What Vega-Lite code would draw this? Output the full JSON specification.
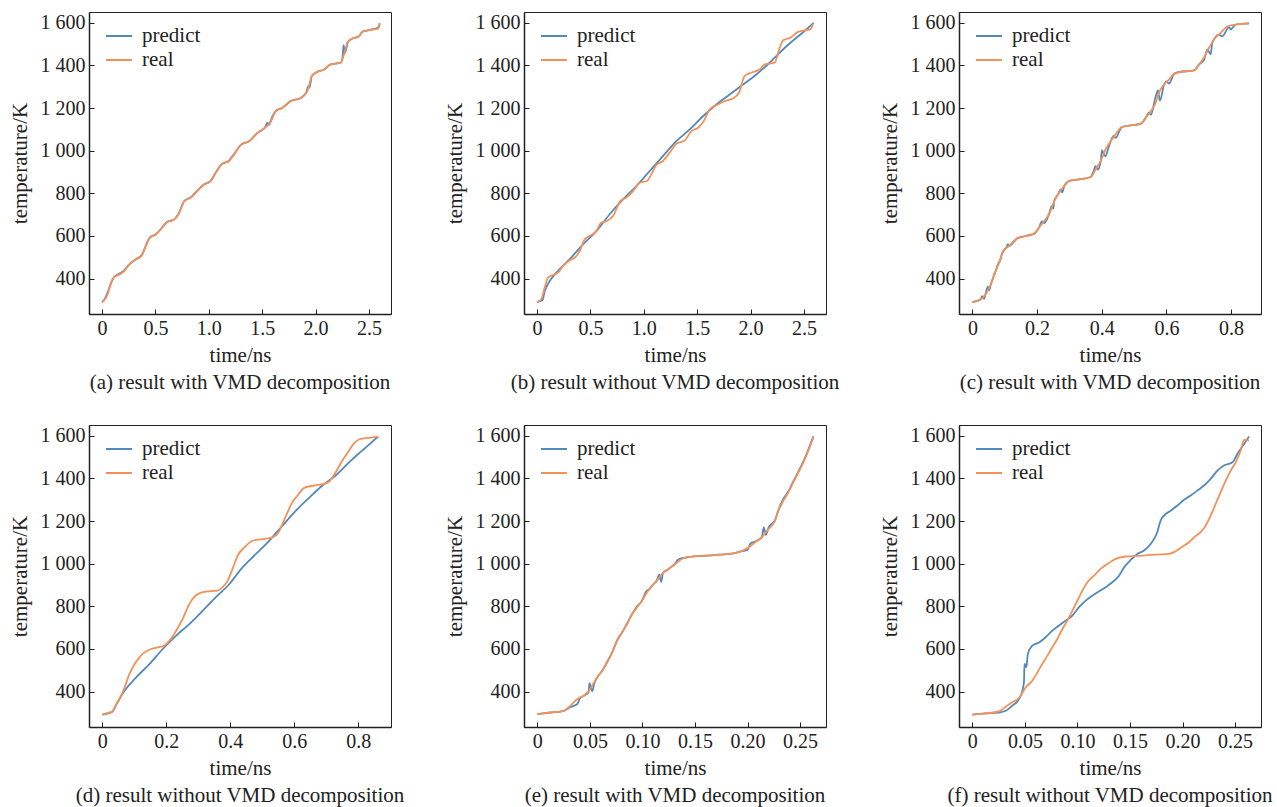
{
  "$schema": "https://vega.github.io/schema/vega-lite/v6.json",
  "background": "white",
  "padding": {"left": 8, "top": 11, "right": 5, "bottom": 5},
  "datasets": {
    "a": [
      {"t":0,"T":290,"s":"predict"},{"t":0.02,"T":300,"s":"predict"},{"t":0.053,"T":335,"s":"predict"},{"t":0.084,"T":378,"s":"predict"},{"t":0.115,"T":408,"s":"predict"},{"t":0.178,"T":428,"s":"predict"},{"t":0.209,"T":440,"s":"predict"},{"t":0.256,"T":467,"s":"predict"},{"t":0.318,"T":491,"s":"predict"},{"t":0.371,"T":509,"s":"predict"},{"t":0.411,"T":556,"s":"predict"},{"t":0.449,"T":594,"s":"predict"},{"t":0.505,"T":608,"s":"predict"},{"t":0.552,"T":634,"s":"predict"},{"t":0.605,"T":665,"s":"predict"},{"t":0.676,"T":678,"s":"predict"},{"t":0.717,"T":705,"s":"predict"},{"t":0.77,"T":764,"s":"predict"},{"t":0.832,"T":782,"s":"predict"},{"t":0.879,"T":806,"s":"predict"},{"t":0.948,"T":839,"s":"predict"},{"t":1.019,"T":860,"s":"predict"},{"t":1.066,"T":899,"s":"predict"},{"t":1.119,"T":936,"s":"predict"},{"t":1.191,"T":955,"s":"predict"},{"t":1.238,"T":986,"s":"predict"},{"t":1.306,"T":1030,"s":"predict"},{"t":1.378,"T":1045,"s":"predict"},{"t":1.456,"T":1084,"s":"predict"},{"t":1.527,"T":1110,"s":"predict"},{"t":1.55,"T":1132,"s":"predict"},{"t":1.565,"T":1120,"s":"predict"},{"t":1.58,"T":1142,"s":"predict"},{"t":1.627,"T":1186,"s":"predict"},{"t":1.69,"T":1202,"s":"predict"},{"t":1.767,"T":1233,"s":"predict"},{"t":1.861,"T":1248,"s":"predict"},{"t":1.915,"T":1275,"s":"predict"},{"t":1.93,"T":1302,"s":"predict"},{"t":1.942,"T":1296,"s":"predict"},{"t":1.964,"T":1350,"s":"predict"},{"t":2.001,"T":1366,"s":"predict"},{"t":2.079,"T":1381,"s":"predict"},{"t":2.142,"T":1405,"s":"predict"},{"t":2.235,"T":1413,"s":"predict"},{"t":2.252,"T":1438,"s":"predict"},{"t":2.262,"T":1495,"s":"predict"},{"t":2.274,"T":1458,"s":"predict"},{"t":2.29,"T":1485,"s":"predict"},{"t":2.3,"T":1508,"s":"predict"},{"t":2.329,"T":1522,"s":"predict"},{"t":2.407,"T":1537,"s":"predict"},{"t":2.438,"T":1558,"s":"predict"},{"t":2.5,"T":1566,"s":"predict"},{"t":2.587,"T":1578,"s":"predict"},{"t":2.6,"T":1596,"s":"predict"},
      {"t":0,"T":290,"s":"real"},{"t":0.02,"T":298,"s":"real"},{"t":0.053,"T":327,"s":"real"},{"t":0.084,"T":381,"s":"real"},{"t":0.115,"T":408,"s":"real"},{"t":0.178,"T":423,"s":"real"},{"t":0.209,"T":436,"s":"real"},{"t":0.256,"T":467,"s":"real"},{"t":0.318,"T":491,"s":"real"},{"t":0.371,"T":509,"s":"real"},{"t":0.411,"T":553,"s":"real"},{"t":0.449,"T":592,"s":"real"},{"t":0.505,"T":608,"s":"real"},{"t":0.552,"T":632,"s":"real"},{"t":0.605,"T":663,"s":"real"},{"t":0.676,"T":678,"s":"real"},{"t":0.717,"T":702,"s":"real"},{"t":0.77,"T":764,"s":"real"},{"t":0.832,"T":780,"s":"real"},{"t":0.879,"T":803,"s":"real"},{"t":0.948,"T":839,"s":"real"},{"t":1.019,"T":858,"s":"real"},{"t":1.066,"T":897,"s":"real"},{"t":1.119,"T":936,"s":"real"},{"t":1.191,"T":952,"s":"real"},{"t":1.238,"T":983,"s":"real"},{"t":1.306,"T":1030,"s":"real"},{"t":1.378,"T":1045,"s":"real"},{"t":1.456,"T":1084,"s":"real"},{"t":1.527,"T":1108,"s":"real"},{"t":1.58,"T":1136,"s":"real"},{"t":1.627,"T":1186,"s":"real"},{"t":1.69,"T":1202,"s":"real"},{"t":1.767,"T":1233,"s":"real"},{"t":1.861,"T":1248,"s":"real"},{"t":1.923,"T":1280,"s":"real"},{"t":1.964,"T":1350,"s":"real"},{"t":2.001,"T":1366,"s":"real"},{"t":2.079,"T":1381,"s":"real"},{"t":2.142,"T":1405,"s":"real"},{"t":2.235,"T":1413,"s":"real"},{"t":2.266,"T":1452,"s":"real"},{"t":2.297,"T":1506,"s":"real"},{"t":2.329,"T":1522,"s":"real"},{"t":2.407,"T":1537,"s":"real"},{"t":2.438,"T":1558,"s":"real"},{"t":2.5,"T":1566,"s":"real"},{"t":2.587,"T":1573,"s":"real"},{"t":2.6,"T":1600,"s":"real"}
    ],
    "b": [
      {"t":0,"T":290,"s":"predict"},{"t":0.05,"T":298,"s":"predict"},{"t":0.072,"T":341,"s":"predict"},{"t":0.119,"T":389,"s":"predict"},{"t":0.181,"T":428,"s":"predict"},{"t":0.306,"T":491,"s":"predict"},{"t":0.431,"T":561,"s":"predict"},{"t":0.556,"T":623,"s":"predict"},{"t":0.68,"T":702,"s":"predict"},{"t":0.805,"T":772,"s":"predict"},{"t":0.93,"T":834,"s":"predict"},{"t":1.055,"T":905,"s":"predict"},{"t":1.179,"T":975,"s":"predict"},{"t":1.305,"T":1045,"s":"predict"},{"t":1.43,"T":1100,"s":"predict"},{"t":1.554,"T":1162,"s":"predict"},{"t":1.679,"T":1217,"s":"predict"},{"t":1.804,"T":1264,"s":"predict"},{"t":1.929,"T":1311,"s":"predict"},{"t":2.054,"T":1358,"s":"predict"},{"t":2.178,"T":1413,"s":"predict"},{"t":2.303,"T":1475,"s":"predict"},{"t":2.428,"T":1530,"s":"predict"},{"t":2.522,"T":1569,"s":"predict"},{"t":2.59,"T":1600,"s":"predict"},
      {"t":0,"T":290,"s":"real"},{"t":0.04,"T":303,"s":"real"},{"t":0.072,"T":358,"s":"real"},{"t":0.103,"T":405,"s":"real"},{"t":0.15,"T":417,"s":"real"},{"t":0.197,"T":428,"s":"real"},{"t":0.243,"T":459,"s":"real"},{"t":0.306,"T":486,"s":"real"},{"t":0.362,"T":502,"s":"real"},{"t":0.4,"T":530,"s":"real"},{"t":0.446,"T":584,"s":"real"},{"t":0.493,"T":600,"s":"real"},{"t":0.556,"T":623,"s":"real"},{"t":0.602,"T":663,"s":"real"},{"t":0.655,"T":670,"s":"real"},{"t":0.712,"T":694,"s":"real"},{"t":0.78,"T":764,"s":"real"},{"t":0.836,"T":780,"s":"real"},{"t":0.899,"T":811,"s":"real"},{"t":0.961,"T":850,"s":"real"},{"t":1.03,"T":858,"s":"real"},{"t":1.07,"T":889,"s":"real"},{"t":1.117,"T":933,"s":"real"},{"t":1.179,"T":952,"s":"real"},{"t":1.242,"T":991,"s":"real"},{"t":1.305,"T":1033,"s":"real"},{"t":1.383,"T":1048,"s":"real"},{"t":1.445,"T":1092,"s":"real"},{"t":1.508,"T":1108,"s":"real"},{"t":1.561,"T":1139,"s":"real"},{"t":1.617,"T":1194,"s":"real"},{"t":1.695,"T":1217,"s":"real"},{"t":1.757,"T":1233,"s":"real"},{"t":1.835,"T":1245,"s":"real"},{"t":1.891,"T":1272,"s":"real"},{"t":1.944,"T":1350,"s":"real"},{"t":2.007,"T":1366,"s":"real"},{"t":2.085,"T":1381,"s":"real"},{"t":2.132,"T":1405,"s":"real"},{"t":2.225,"T":1413,"s":"real"},{"t":2.272,"T":1483,"s":"real"},{"t":2.303,"T":1517,"s":"real"},{"t":2.381,"T":1533,"s":"real"},{"t":2.444,"T":1558,"s":"real"},{"t":2.491,"T":1564,"s":"real"},{"t":2.559,"T":1569,"s":"real"},{"t":2.584,"T":1595,"s":"real"}
    ],
    "c": [
      {"t":0,"T":290,"s":"predict"},{"t":0.026,"T":303,"s":"predict"},{"t":0.03,"T":318,"s":"predict"},{"t":0.036,"T":305,"s":"predict"},{"t":0.041,"T":330,"s":"predict"},{"t":0.048,"T":362,"s":"predict"},{"t":0.052,"T":345,"s":"predict"},{"t":0.057,"T":373,"s":"predict"},{"t":0.072,"T":436,"s":"predict"},{"t":0.08,"T":470,"s":"predict"},{"t":0.085,"T":483,"s":"predict"},{"t":0.093,"T":522,"s":"predict"},{"t":0.106,"T":548,"s":"predict"},{"t":0.11,"T":562,"s":"predict"},{"t":0.113,"T":553,"s":"predict"},{"t":0.139,"T":589,"s":"predict"},{"t":0.165,"T":600,"s":"predict"},{"t":0.191,"T":611,"s":"predict"},{"t":0.206,"T":639,"s":"predict"},{"t":0.215,"T":668,"s":"predict"},{"t":0.222,"T":660,"s":"predict"},{"t":0.237,"T":702,"s":"predict"},{"t":0.245,"T":740,"s":"predict"},{"t":0.25,"T":728,"s":"predict"},{"t":0.253,"T":764,"s":"predict"},{"t":0.268,"T":803,"s":"predict"},{"t":0.272,"T":818,"s":"predict"},{"t":0.278,"T":805,"s":"predict"},{"t":0.284,"T":834,"s":"predict"},{"t":0.299,"T":858,"s":"predict"},{"t":0.33,"T":866,"s":"predict"},{"t":0.366,"T":877,"s":"predict"},{"t":0.375,"T":905,"s":"predict"},{"t":0.381,"T":928,"s":"predict"},{"t":0.388,"T":912,"s":"predict"},{"t":0.397,"T":952,"s":"predict"},{"t":0.401,"T":1003,"s":"predict"},{"t":0.406,"T":985,"s":"predict"},{"t":0.412,"T":975,"s":"predict"},{"t":0.418,"T":1000,"s":"predict"},{"t":0.428,"T":1045,"s":"predict"},{"t":0.437,"T":1070,"s":"predict"},{"t":0.443,"T":1060,"s":"predict"},{"t":0.462,"T":1111,"s":"predict"},{"t":0.495,"T":1120,"s":"predict"},{"t":0.521,"T":1127,"s":"predict"},{"t":0.536,"T":1155,"s":"predict"},{"t":0.546,"T":1180,"s":"predict"},{"t":0.552,"T":1168,"s":"predict"},{"t":0.567,"T":1256,"s":"predict"},{"t":0.574,"T":1283,"s":"predict"},{"t":0.58,"T":1235,"s":"predict"},{"t":0.593,"T":1311,"s":"predict"},{"t":0.6,"T":1325,"s":"predict"},{"t":0.608,"T":1315,"s":"predict"},{"t":0.624,"T":1361,"s":"predict"},{"t":0.639,"T":1369,"s":"predict"},{"t":0.686,"T":1377,"s":"predict"},{"t":0.701,"T":1405,"s":"predict"},{"t":0.716,"T":1425,"s":"predict"},{"t":0.727,"T":1475,"s":"predict"},{"t":0.737,"T":1452,"s":"predict"},{"t":0.742,"T":1506,"s":"predict"},{"t":0.763,"T":1545,"s":"predict"},{"t":0.773,"T":1537,"s":"predict"},{"t":0.794,"T":1580,"s":"predict"},{"t":0.799,"T":1569,"s":"predict"},{"t":0.814,"T":1592,"s":"predict"},{"t":0.856,"T":1598,"s":"predict"},
      {"t":0,"T":290,"s":"real"},{"t":0.026,"T":303,"s":"real"},{"t":0.041,"T":327,"s":"real"},{"t":0.057,"T":373,"s":"real"},{"t":0.072,"T":436,"s":"real"},{"t":0.085,"T":483,"s":"real"},{"t":0.093,"T":522,"s":"real"},{"t":0.113,"T":553,"s":"real"},{"t":0.139,"T":589,"s":"real"},{"t":0.165,"T":600,"s":"real"},{"t":0.191,"T":611,"s":"real"},{"t":0.206,"T":639,"s":"real"},{"t":0.222,"T":670,"s":"real"},{"t":0.237,"T":702,"s":"real"},{"t":0.253,"T":764,"s":"real"},{"t":0.268,"T":803,"s":"real"},{"t":0.284,"T":834,"s":"real"},{"t":0.299,"T":858,"s":"real"},{"t":0.33,"T":866,"s":"real"},{"t":0.366,"T":877,"s":"real"},{"t":0.381,"T":912,"s":"real"},{"t":0.397,"T":952,"s":"real"},{"t":0.412,"T":1006,"s":"real"},{"t":0.428,"T":1045,"s":"real"},{"t":0.443,"T":1077,"s":"real"},{"t":0.462,"T":1111,"s":"real"},{"t":0.495,"T":1120,"s":"real"},{"t":0.521,"T":1127,"s":"real"},{"t":0.536,"T":1155,"s":"real"},{"t":0.552,"T":1186,"s":"real"},{"t":0.567,"T":1225,"s":"real"},{"t":0.577,"T":1272,"s":"real"},{"t":0.593,"T":1311,"s":"real"},{"t":0.608,"T":1334,"s":"real"},{"t":0.624,"T":1361,"s":"real"},{"t":0.639,"T":1369,"s":"real"},{"t":0.686,"T":1377,"s":"real"},{"t":0.701,"T":1405,"s":"real"},{"t":0.716,"T":1436,"s":"real"},{"t":0.732,"T":1483,"s":"real"},{"t":0.747,"T":1522,"s":"real"},{"t":0.768,"T":1553,"s":"real"},{"t":0.789,"T":1584,"s":"real"},{"t":0.814,"T":1592,"s":"real"},{"t":0.856,"T":1598,"s":"real"}
    ],
    "d": [
      {"t":0,"T":292,"s":"predict"},{"t":0.031,"T":306,"s":"predict"},{"t":0.044,"T":339,"s":"predict"},{"t":0.064,"T":392,"s":"predict"},{"t":0.106,"T":467,"s":"predict"},{"t":0.148,"T":530,"s":"predict"},{"t":0.189,"T":600,"s":"predict"},{"t":0.231,"T":663,"s":"predict"},{"t":0.272,"T":717,"s":"predict"},{"t":0.314,"T":780,"s":"predict"},{"t":0.355,"T":843,"s":"predict"},{"t":0.397,"T":905,"s":"predict"},{"t":0.438,"T":983,"s":"predict"},{"t":0.48,"T":1046,"s":"predict"},{"t":0.522,"T":1109,"s":"predict"},{"t":0.563,"T":1179,"s":"predict"},{"t":0.605,"T":1249,"s":"predict"},{"t":0.646,"T":1309,"s":"predict"},{"t":0.688,"T":1367,"s":"predict"},{"t":0.729,"T":1414,"s":"predict"},{"t":0.771,"T":1476,"s":"predict"},{"t":0.812,"T":1531,"s":"predict"},{"t":0.862,"T":1597,"s":"predict"},
      {"t":0,"T":292,"s":"real"},{"t":0.012,"T":298,"s":"real"},{"t":0.031,"T":306,"s":"real"},{"t":0.044,"T":342,"s":"real"},{"t":0.064,"T":397,"s":"real"},{"t":0.085,"T":483,"s":"real"},{"t":0.101,"T":530,"s":"real"},{"t":0.116,"T":561,"s":"real"},{"t":0.132,"T":584,"s":"real"},{"t":0.153,"T":600,"s":"real"},{"t":0.174,"T":608,"s":"real"},{"t":0.194,"T":616,"s":"real"},{"t":0.21,"T":639,"s":"real"},{"t":0.231,"T":686,"s":"real"},{"t":0.251,"T":741,"s":"real"},{"t":0.267,"T":796,"s":"real"},{"t":0.282,"T":835,"s":"real"},{"t":0.303,"T":861,"s":"real"},{"t":0.335,"T":871,"s":"real"},{"t":0.36,"T":874,"s":"real"},{"t":0.376,"T":890,"s":"real"},{"t":0.392,"T":921,"s":"real"},{"t":0.407,"T":976,"s":"real"},{"t":0.423,"T":1038,"s":"real"},{"t":0.444,"T":1077,"s":"real"},{"t":0.47,"T":1108,"s":"real"},{"t":0.501,"T":1116,"s":"real"},{"t":0.532,"T":1124,"s":"real"},{"t":0.551,"T":1148,"s":"real"},{"t":0.563,"T":1187,"s":"real"},{"t":0.579,"T":1242,"s":"real"},{"t":0.594,"T":1289,"s":"real"},{"t":0.61,"T":1320,"s":"real"},{"t":0.631,"T":1356,"s":"real"},{"t":0.662,"T":1367,"s":"real"},{"t":0.693,"T":1375,"s":"real"},{"t":0.709,"T":1386,"s":"real"},{"t":0.729,"T":1429,"s":"real"},{"t":0.75,"T":1484,"s":"real"},{"t":0.771,"T":1531,"s":"real"},{"t":0.787,"T":1566,"s":"real"},{"t":0.802,"T":1583,"s":"real"},{"t":0.833,"T":1591,"s":"real"},{"t":0.862,"T":1597,"s":"real"}
    ],
    "e": [
      {"t":0,"T":295,"s":"predict"},{"t":0.0127,"T":302,"s":"predict"},{"t":0.0253,"T":310,"s":"predict"},{"t":0.0316,"T":328,"s":"predict"},{"t":0.038,"T":342,"s":"predict"},{"t":0.0405,"T":368,"s":"predict"},{"t":0.0443,"T":381,"s":"predict"},{"t":0.0485,"T":395,"s":"predict"},{"t":0.0497,"T":440,"s":"predict"},{"t":0.0522,"T":402,"s":"predict"},{"t":0.054,"T":435,"s":"predict"},{"t":0.057,"T":467,"s":"predict"},{"t":0.0617,"T":498,"s":"predict"},{"t":0.0665,"T":540,"s":"predict"},{"t":0.0712,"T":584,"s":"predict"},{"t":0.076,"T":642,"s":"predict"},{"t":0.0807,"T":678,"s":"predict"},{"t":0.0854,"T":720,"s":"predict"},{"t":0.0902,"T":764,"s":"predict"},{"t":0.095,"T":800,"s":"predict"},{"t":0.0997,"T":827,"s":"predict"},{"t":0.1035,"T":870,"s":"predict"},{"t":0.1065,"T":880,"s":"predict"},{"t":0.1092,"T":897,"s":"predict"},{"t":0.114,"T":925,"s":"predict"},{"t":0.116,"T":950,"s":"predict"},{"t":0.1178,"T":915,"s":"predict"},{"t":0.1195,"T":955,"s":"predict"},{"t":0.125,"T":976,"s":"predict"},{"t":0.1313,"T":1002,"s":"predict"},{"t":0.134,"T":1020,"s":"predict"},{"t":0.1424,"T":1030,"s":"predict"},{"t":0.1487,"T":1035,"s":"predict"},{"t":0.1614,"T":1038,"s":"predict"},{"t":0.174,"T":1043,"s":"predict"},{"t":0.1867,"T":1049,"s":"predict"},{"t":0.1946,"T":1059,"s":"predict"},{"t":0.2,"T":1065,"s":"predict"},{"t":0.203,"T":1096,"s":"predict"},{"t":0.2073,"T":1104,"s":"predict"},{"t":0.2136,"T":1124,"s":"predict"},{"t":0.2155,"T":1170,"s":"predict"},{"t":0.2175,"T":1135,"s":"predict"},{"t":0.22,"T":1170,"s":"predict"},{"t":0.2263,"T":1206,"s":"predict"},{"t":0.2294,"T":1252,"s":"predict"},{"t":0.2342,"T":1305,"s":"predict"},{"t":0.239,"T":1340,"s":"predict"},{"t":0.2437,"T":1388,"s":"predict"},{"t":0.2484,"T":1432,"s":"predict"},{"t":0.2532,"T":1480,"s":"predict"},{"t":0.2579,"T":1536,"s":"predict"},{"t":0.2627,"T":1598,"s":"predict"},
      {"t":0,"T":295,"s":"real"},{"t":0.0127,"T":302,"s":"real"},{"t":0.0253,"T":310,"s":"real"},{"t":0.0316,"T":334,"s":"real"},{"t":0.038,"T":365,"s":"real"},{"t":0.0443,"T":381,"s":"real"},{"t":0.049,"T":404,"s":"real"},{"t":0.0522,"T":428,"s":"real"},{"t":0.057,"T":467,"s":"real"},{"t":0.0617,"T":498,"s":"real"},{"t":0.0665,"T":537,"s":"real"},{"t":0.0712,"T":584,"s":"real"},{"t":0.076,"T":639,"s":"real"},{"t":0.0807,"T":678,"s":"real"},{"t":0.0854,"T":717,"s":"real"},{"t":0.0902,"T":764,"s":"real"},{"t":0.095,"T":796,"s":"real"},{"t":0.0997,"T":827,"s":"real"},{"t":0.1044,"T":866,"s":"real"},{"t":0.1092,"T":897,"s":"real"},{"t":0.114,"T":921,"s":"real"},{"t":0.1187,"T":952,"s":"real"},{"t":0.125,"T":976,"s":"real"},{"t":0.1313,"T":999,"s":"real"},{"t":0.136,"T":1018,"s":"real"},{"t":0.1424,"T":1030,"s":"real"},{"t":0.1487,"T":1035,"s":"real"},{"t":0.1614,"T":1038,"s":"real"},{"t":0.174,"T":1043,"s":"real"},{"t":0.1867,"T":1049,"s":"real"},{"t":0.1946,"T":1059,"s":"real"},{"t":0.201,"T":1077,"s":"real"},{"t":0.2073,"T":1101,"s":"real"},{"t":0.2136,"T":1124,"s":"real"},{"t":0.22,"T":1163,"s":"real"},{"t":0.2263,"T":1203,"s":"real"},{"t":0.2294,"T":1249,"s":"real"},{"t":0.2342,"T":1296,"s":"real"},{"t":0.239,"T":1336,"s":"real"},{"t":0.2437,"T":1383,"s":"real"},{"t":0.2484,"T":1429,"s":"real"},{"t":0.2532,"T":1476,"s":"real"},{"t":0.2579,"T":1531,"s":"real"},{"t":0.2627,"T":1594,"s":"real"}
    ],
    "f": [
      {"t":0,"T":292,"s":"predict"},{"t":0.0127,"T":298,"s":"predict"},{"t":0.0254,"T":302,"s":"predict"},{"t":0.0317,"T":310,"s":"predict"},{"t":0.038,"T":334,"s":"predict"},{"t":0.0444,"T":365,"s":"predict"},{"t":0.0476,"T":404,"s":"predict"},{"t":0.0492,"T":451,"s":"predict"},{"t":0.0496,"T":530,"s":"predict"},{"t":0.0514,"T":514,"s":"predict"},{"t":0.0528,"T":577,"s":"predict"},{"t":0.0571,"T":616,"s":"predict"},{"t":0.0635,"T":631,"s":"predict"},{"t":0.0698,"T":655,"s":"predict"},{"t":0.0761,"T":686,"s":"predict"},{"t":0.0825,"T":710,"s":"predict"},{"t":0.0888,"T":733,"s":"predict"},{"t":0.0952,"T":757,"s":"predict"},{"t":0.1015,"T":796,"s":"predict"},{"t":0.1079,"T":827,"s":"predict"},{"t":0.1142,"T":850,"s":"predict"},{"t":0.1206,"T":871,"s":"predict"},{"t":0.1269,"T":890,"s":"predict"},{"t":0.1332,"T":913,"s":"predict"},{"t":0.1396,"T":944,"s":"predict"},{"t":0.1444,"T":983,"s":"predict"},{"t":0.1507,"T":1018,"s":"predict"},{"t":0.157,"T":1046,"s":"predict"},{"t":0.1634,"T":1062,"s":"predict"},{"t":0.1697,"T":1093,"s":"predict"},{"t":0.176,"T":1148,"s":"predict"},{"t":0.1792,"T":1203,"s":"predict"},{"t":0.1824,"T":1226,"s":"predict"},{"t":0.1888,"T":1249,"s":"predict"},{"t":0.1951,"T":1273,"s":"predict"},{"t":0.2015,"T":1300,"s":"predict"},{"t":0.2078,"T":1320,"s":"predict"},{"t":0.2141,"T":1343,"s":"predict"},{"t":0.2205,"T":1367,"s":"predict"},{"t":0.2268,"T":1398,"s":"predict"},{"t":0.2332,"T":1437,"s":"predict"},{"t":0.2395,"T":1461,"s":"predict"},{"t":0.2475,"T":1476,"s":"predict"},{"t":0.2522,"T":1515,"s":"predict"},{"t":0.2586,"T":1562,"s":"predict"},{"t":0.2633,"T":1597,"s":"predict"},
      {"t":0,"T":292,"s":"real"},{"t":0.0127,"T":298,"s":"real"},{"t":0.0254,"T":307,"s":"real"},{"t":0.0317,"T":329,"s":"real"},{"t":0.038,"T":350,"s":"real"},{"t":0.0444,"T":370,"s":"real"},{"t":0.0508,"T":420,"s":"real"},{"t":0.0571,"T":451,"s":"real"},{"t":0.0619,"T":490,"s":"real"},{"t":0.0666,"T":530,"s":"real"},{"t":0.0714,"T":569,"s":"real"},{"t":0.0761,"T":608,"s":"real"},{"t":0.0809,"T":647,"s":"real"},{"t":0.0857,"T":694,"s":"real"},{"t":0.0904,"T":733,"s":"real"},{"t":0.0952,"T":780,"s":"real"},{"t":0.1,"T":827,"s":"real"},{"t":0.1047,"T":874,"s":"real"},{"t":0.1095,"T":913,"s":"real"},{"t":0.1158,"T":944,"s":"real"},{"t":0.1221,"T":976,"s":"real"},{"t":0.1285,"T":999,"s":"real"},{"t":0.1364,"T":1023,"s":"real"},{"t":0.1459,"T":1034,"s":"real"},{"t":0.1586,"T":1037,"s":"real"},{"t":0.1745,"T":1043,"s":"real"},{"t":0.1872,"T":1046,"s":"real"},{"t":0.1935,"T":1059,"s":"real"},{"t":0.1999,"T":1080,"s":"real"},{"t":0.2062,"T":1101,"s":"real"},{"t":0.211,"T":1124,"s":"real"},{"t":0.2173,"T":1148,"s":"real"},{"t":0.2221,"T":1179,"s":"real"},{"t":0.2268,"T":1226,"s":"real"},{"t":0.2316,"T":1281,"s":"real"},{"t":0.2364,"T":1336,"s":"real"},{"t":0.2411,"T":1390,"s":"real"},{"t":0.2459,"T":1437,"s":"real"},{"t":0.2506,"T":1476,"s":"real"},{"t":0.2554,"T":1531,"s":"real"},{"t":0.2586,"T":1581,"s":"real"},{"t":0.2633,"T":1578,"s":"real"}
    ]
  },
  "columns": 3,
  "spacing": {"row": 111, "column": 133},
  "bounds": "flush",
  "resolve": {"scale": {"x": "independent", "y": "independent", "color": "independent"}, "legend": {"color": "independent"}},
  "concat": [
    {
      "width": 302, "height": 302,
      "data": {"name": "a"},
      "title": "(a) result with VMD decomposition",
      "mark": {"type": "line", "strokeWidth": 1.8, "interpolate": "monotone"},
      "encoding": {
        "x": {"field": "t", "type": "quantitative", "title": "time/ns", "scale": {"domain": [-0.122, 2.706], "nice": false, "zero": false}, "axis": {"values": [0, 0.5, 1, 1.5, 2, 2.5], "labelExpr": "datum.value == 0 ? '0' : format(datum.value, '.1f')"}},
        "y": {"field": "T", "type": "quantitative", "title": "temperature/K", "scale": {"domain": [234, 1651], "nice": false, "zero": false}, "axis": {"values": [400, 600, 800, 1000, 1200, 1400, 1600], "labelExpr": "replace(format(datum.value, ','), ',', ' ')"}},
        "color": {"field": "s", "type": "nominal", "sort": ["predict", "real"], "scale": {"domain": ["predict", "real"], "range": ["#5289bb", "#f39159"]}, "legend": {"title": null, "orient": "none", "legendX": 16, "legendY": 10}}
      }
    },
    {
      "width": 302, "height": 302,
      "data": {"name": "b"},
      "title": "(b) result without VMD decomposition",
      "mark": {"type": "line", "strokeWidth": 1.8, "interpolate": "monotone"},
      "encoding": {
        "x": {"field": "t", "type": "quantitative", "title": "time/ns", "scale": {"domain": [-0.122, 2.706], "nice": false, "zero": false}, "axis": {"values": [0, 0.5, 1, 1.5, 2, 2.5], "labelExpr": "datum.value == 0 ? '0' : format(datum.value, '.1f')"}},
        "y": {"field": "T", "type": "quantitative", "title": "temperature/K", "scale": {"domain": [234, 1651], "nice": false, "zero": false}, "axis": {"values": [400, 600, 800, 1000, 1200, 1400, 1600], "labelExpr": "replace(format(datum.value, ','), ',', ' ')"}},
        "color": {"field": "s", "type": "nominal", "sort": ["predict", "real"], "scale": {"domain": ["predict", "real"], "range": ["#5289bb", "#f39159"]}, "legend": {"title": null, "orient": "none", "legendX": 16, "legendY": 10}}
      }
    },
    {
      "width": 302, "height": 302,
      "data": {"name": "c"},
      "title": "(c) result with VMD decomposition",
      "mark": {"type": "line", "strokeWidth": 1.8, "interpolate": "monotone"},
      "encoding": {
        "x": {"field": "t", "type": "quantitative", "title": "time/ns", "scale": {"domain": [-0.0414, 0.8926], "nice": false, "zero": false}, "axis": {"values": [0, 0.2, 0.4, 0.6, 0.8], "labelExpr": "datum.value == 0 ? '0' : format(datum.value, '.1f')"}},
        "y": {"field": "T", "type": "quantitative", "title": "temperature/K", "scale": {"domain": [234, 1651], "nice": false, "zero": false}, "axis": {"values": [400, 600, 800, 1000, 1200, 1400, 1600], "labelExpr": "replace(format(datum.value, ','), ',', ' ')"}},
        "color": {"field": "s", "type": "nominal", "sort": ["predict", "real"], "scale": {"domain": ["predict", "real"], "range": ["#5289bb", "#f39159"]}, "legend": {"title": null, "orient": "none", "legendX": 16, "legendY": 10}}
      }
    },
    {
      "width": 302, "height": 302,
      "data": {"name": "d"},
      "title": "(d) result without VMD decomposition",
      "mark": {"type": "line", "strokeWidth": 1.8, "interpolate": "monotone"},
      "encoding": {
        "x": {"field": "t", "type": "quantitative", "title": "time/ns", "scale": {"domain": [-0.0415, 0.902], "nice": false, "zero": false}, "axis": {"values": [0, 0.2, 0.4, 0.6, 0.8], "labelExpr": "datum.value == 0 ? '0' : format(datum.value, '.1f')"}},
        "y": {"field": "T", "type": "quantitative", "title": "temperature/K", "scale": {"domain": [234, 1651], "nice": false, "zero": false}, "axis": {"values": [400, 600, 800, 1000, 1200, 1400, 1600], "labelExpr": "replace(format(datum.value, ','), ',', ' ')"}},
        "color": {"field": "s", "type": "nominal", "sort": ["predict", "real"], "scale": {"domain": ["predict", "real"], "range": ["#5289bb", "#f39159"]}, "legend": {"title": null, "orient": "none", "legendX": 16, "legendY": 10}}
      }
    },
    {
      "width": 302, "height": 302,
      "data": {"name": "e"},
      "title": "(e) result with VMD decomposition",
      "mark": {"type": "line", "strokeWidth": 1.8, "interpolate": "monotone"},
      "encoding": {
        "x": {"field": "t", "type": "quantitative", "title": "time/ns", "scale": {"domain": [-0.0127, 0.2747], "nice": false, "zero": false}, "axis": {"values": [0, 0.05, 0.1, 0.15, 0.2, 0.25], "labelExpr": "datum.value == 0 ? '0' : format(datum.value, '.2f')"}},
        "y": {"field": "T", "type": "quantitative", "title": "temperature/K", "scale": {"domain": [234, 1651], "nice": false, "zero": false}, "axis": {"values": [400, 600, 800, 1000, 1200, 1400, 1600], "labelExpr": "replace(format(datum.value, ','), ',', ' ')"}},
        "color": {"field": "s", "type": "nominal", "sort": ["predict", "real"], "scale": {"domain": ["predict", "real"], "range": ["#5289bb", "#f39159"]}, "legend": {"title": null, "orient": "none", "legendX": 16, "legendY": 10}}
      }
    },
    {
      "width": 302, "height": 302,
      "data": {"name": "f"},
      "title": "(f) result without VMD decomposition",
      "mark": {"type": "line", "strokeWidth": 1.8, "interpolate": "monotone"},
      "encoding": {
        "x": {"field": "t", "type": "quantitative", "title": "time/ns", "scale": {"domain": [-0.0127, 0.2747], "nice": false, "zero": false}, "axis": {"values": [0, 0.05, 0.1, 0.15, 0.2, 0.25], "labelExpr": "datum.value == 0 ? '0' : format(datum.value, '.2f')"}},
        "y": {"field": "T", "type": "quantitative", "title": "temperature/K", "scale": {"domain": [234, 1651], "nice": false, "zero": false}, "axis": {"values": [400, 600, 800, 1000, 1200, 1400, 1600], "labelExpr": "replace(format(datum.value, ','), ',', ' ')"}},
        "color": {"field": "s", "type": "nominal", "sort": ["predict", "real"], "scale": {"domain": ["predict", "real"], "range": ["#5289bb", "#f39159"]}, "legend": {"title": null, "orient": "none", "legendX": 16, "legendY": 10}}
      }
    }
  ],
  "config": {
    "font": "Liberation Serif",
    "view": {"stroke": "#222222", "strokeWidth": 1},
    "axis": {
      "grid": false,
      "domainColor": "#222222",
      "domainWidth": 1.5,
      "tickColor": "#222222",
      "tickSize": -5,
      "tickWidth": 1,
      "labelFont": "Liberation Serif",
      "labelFontSize": 20,
      "labelColor": "#222222",
      "labelPadding": 9,
      "titleFont": "Liberation Serif",
      "titleFontSize": 21,
      "titleFontWeight": "normal",
      "titleColor": "#222222"
    },
    "axisX": {"titlePadding": 6},
    "axisY": {"titlePadding": 10},
    "legend": {
      "symbolType": "stroke",
      "symbolSize": 676,
      "symbolStrokeWidth": 2,
      "labelFont": "Liberation Serif",
      "labelFontSize": 21,
      "labelColor": "#222222",
      "labelOffset": 9,
      "rowPadding": -1,
      "padding": 0
    },
    "title": {
      "orient": "bottom",
      "anchor": "middle",
      "font": "Liberation Serif",
      "fontSize": 21,
      "fontWeight": "normal",
      "color": "#222222",
      "offset": 7
    }
  }
}
